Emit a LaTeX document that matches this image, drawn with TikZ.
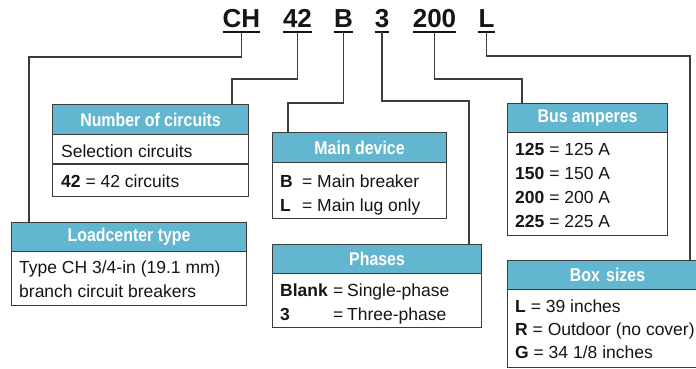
\documentclass[tikz,border=0pt]{standalone}
\usepackage{fontspec}
\setmainfont{Liberation Sans}
\newfontfamily\hdfont[FakeStretch=0.86]{Liberation Sans}
\definecolor{hdrblue}{HTML}{62B6CF}
\definecolor{linegray}{HTML}{3C3C3C}
\definecolor{txt}{HTML}{151515}
\begin{document}
\begin{tikzpicture}[x=1pt,y=-1pt,
  code/.style={inner sep=0pt, anchor=base, font=\fontsize{26}{28}\selectfont\bfseries, text=txt},
  uline/.style={draw=txt, line width=2pt},
  conn/.style={draw=linegray, line width=1.4pt},
  hdr/.style={draw=linegray, line width=1.1pt, fill=hdrblue, text=white, inner sep=0pt, anchor=north west,
     font=\hdfont\fontsize{18.5}{20}\selectfont\bfseries},
  bodybox/.style={draw=linegray, line width=1.1pt, fill=white, inner sep=0pt, anchor=north west},
  txtn/.style={inner sep=0pt, anchor=base west, text=txt, font=\fontsize{17.5}{20}\selectfont}
]
\useasboundingbox (0,0) rectangle (696,368);
\fill[white] (0,0) rectangle (696,368);

% code letters
\node[code] (cCH) at (241.5,27) {CH};
\node[code] (c42) at (297.5,27) {42};
\node[code] (cB) at (343.5,27) {B};
\node[code] (c3) at (382,27) {3};
\node[code] (c200) at (434.5,27) {200};
\node[code] (cL) at (486.5,27) {L};
\foreach \n in {cCH,c42,cB,c3,c200,cL}{
  \draw[uline] ([yshift=-5pt]\n.south west) -- ([yshift=-5pt]\n.south east);
  \coordinate (u\n) at ([yshift=-5pt]\n.south);
}

% Number of circuits
\node[bodybox, minimum width=196pt, minimum height=62pt] (bNum) at (52,134) {};
\node[hdr, minimum width=196pt, minimum height=30pt] (hNum) at (52,104) {Number of circuits};
\draw[draw=linegray, line width=1.1pt] (52,164) -- (248,164);
\node[txtn] (tNum1) at (61,157) {Selection circuits};
\node[txtn] (tNum2) at (61,187) {\textbf{42} = 42 circuits};

% Loadcenter type
\node[bodybox, minimum width=235pt, minimum height=54pt] (bLoad) at (11,251) {};
\node[hdr, minimum width=235pt, minimum height=29pt] (hLoad) at (11,222) {Loadcenter type};
\node[txtn] (tLoad1) at (19,273) {Type CH 3/4-in (19.1 mm)};
\node[txtn] (tLoad2) at (19,297) {branch circuit breakers};

% Main device
\node[bodybox, minimum width=174pt, minimum height=56pt] (bMain) at (272,162) {};
\node[hdr, minimum width=174pt, minimum height=30pt] (hMain) at (272,132) {Main device};
\node[txtn] (tMainB) at (280,187) {\textbf{B}};
\node[txtn] (tMainBe) at (302,187) {=};
\node[txtn] (tMainBt) at (317,187) {Main breaker};
\node[txtn] (tMainL) at (280,211) {\textbf{L}};
\node[txtn] (tMainLe) at (302,211) {=};
\node[txtn] (tMainLt) at (317,211) {Main lug only};

% Phases
\node[bodybox, minimum width=209pt, minimum height=54pt] (bPh) at (272,273) {};
\node[hdr, minimum width=209pt, minimum height=29pt] (hPh) at (272,244) {Phases};
\node[txtn] (tPh1) at (280,296) {\textbf{Blank}};
\node[txtn] (tPh1e) at (333,296) {=};
\node[txtn] (tPh1t) at (347,296) {Single-phase};
\node[txtn] (tPh2) at (280,320) {\textbf{3}};
\node[txtn] (tPh2e) at (333,320) {=};
\node[txtn] (tPh2t) at (347,320) {Three-phase};

% Bus amperes
\node[bodybox, minimum width=160pt, minimum height=103pt] (bBus) at (507,132) {};
\node[hdr, minimum width=160pt, minimum height=29pt] (hBus) at (507,103) {Bus amperes};
\node[txtn] (tBus1) at (515,155) {\textbf{125} = 125 A};
\node[txtn] (tBus2) at (515,179) {\textbf{150} = 150 A};
\node[txtn] (tBus3) at (515,203) {\textbf{200} = 200 A};
\node[txtn] (tBus4) at (515,227) {\textbf{225} = 225 A};

% Box sizes
\node[bodybox, minimum width=200pt, minimum height=78pt] (bBox) at (507,289) {};
\node[hdr, minimum width=200pt, minimum height=29pt, text width=189pt, align=center] (hBox) at (507,260) {Box sizes};
\node[txtn] (tBox1) at (515,312) {\textbf{L} = 39 inches};
\node[txtn] (tBox2) at (515,335) {\textbf{R} = Outdoor (no cover)};
\node[txtn] (tBox3) at (515,358) {\textbf{G} = 34 1/8 inches};

% connectors
\coordinate (kCH) at (29,57);
\draw[conn] (ucCH) |- (kCH) -- (kCH |- hLoad.north);
\coordinate (k42) at (232,79);
\draw[conn] (uc42) |- (k42) -- (k42 |- hNum.north);
\coordinate (kB) at (288,103);
\draw[conn] (ucB) |- (kB) -- (kB |- hMain.north);
\coordinate (k3) at (469,101);
\draw[conn] (uc3) |- (k3) -- (k3 |- hPh.north);
\coordinate (k200) at (522,79);
\draw[conn] (uc200) |- (k200) -- (k200 |- hBus.north);
\coordinate (kL) at (690,56);
\draw[conn] (ucL) |- (kL) -- (kL |- hBox.north);
\end{tikzpicture}
\end{document}
